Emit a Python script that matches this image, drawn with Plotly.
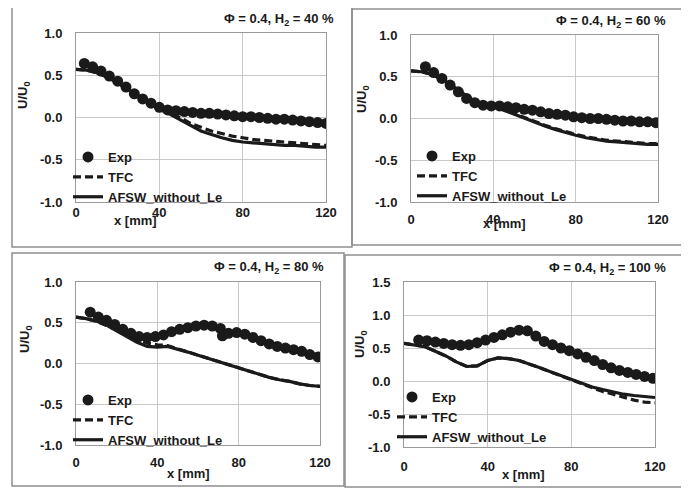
import plotly.graph_objects as go

W, H = 689, 489

# ---------------- data ----------------
sim_x = [0, 5, 10, 15, 20, 25, 30, 35, 40, 45, 50, 55, 60, 65, 70, 75, 80, 85, 90, 95, 100, 105, 110, 115, 120]

# H2 = 40 %
exp_x_40 = [4, 8, 12, 16, 20, 24, 28, 32, 36, 40, 44, 48, 52, 56, 60, 64, 68, 72, 76, 80, 84, 88, 92, 96, 100, 104, 108, 112, 116, 120]
exp_y_40 = [0.64, 0.60, 0.55, 0.49, 0.43, 0.36, 0.28, 0.22, 0.17, 0.12, 0.09, 0.08, 0.07, 0.06, 0.05, 0.05, 0.04, 0.03, 0.02, 0.01, 0.01, 0.00, -0.01, -0.02, -0.02, -0.03, -0.04, -0.05, -0.06, -0.07]
tfc_40 = [0.57, 0.56, 0.53, 0.48, 0.41, 0.33, 0.25, 0.17, 0.10, 0.05, 0.00, -0.07, -0.12, -0.16, -0.19, -0.22, -0.24, -0.26, -0.27, -0.28, -0.29, -0.30, -0.31, -0.32, -0.33]
afsw_40 = [0.57, 0.56, 0.53, 0.48, 0.41, 0.33, 0.25, 0.17, 0.10, 0.04, -0.03, -0.10, -0.16, -0.20, -0.24, -0.27, -0.29, -0.30, -0.31, -0.32, -0.33, -0.33, -0.34, -0.35, -0.35]

# H2 = 60 %
exp_x_60 = [7, 11, 15, 19, 23, 27, 31, 35, 39, 43, 47, 51, 55, 59, 63, 67, 71, 75, 79, 83, 87, 91, 95, 99, 103, 107, 111, 115, 119]
exp_y_60 = [0.62, 0.55, 0.48, 0.40, 0.32, 0.24, 0.19, 0.16, 0.15, 0.15, 0.14, 0.13, 0.11, 0.10, 0.08, 0.06, 0.05, 0.04, 0.02, 0.01, 0.00, 0.00, -0.01, -0.02, -0.03, -0.03, -0.04, -0.04, -0.05]
tfc_60 = [0.57, 0.56, 0.53, 0.47, 0.39, 0.30, 0.22, 0.17, 0.14, 0.11, 0.06, 0.01, -0.04, -0.08, -0.12, -0.16, -0.19, -0.22, -0.24, -0.26, -0.27, -0.28, -0.29, -0.30, -0.30]
afsw_60 = [0.57, 0.56, 0.53, 0.47, 0.39, 0.30, 0.22, 0.17, 0.14, 0.10, 0.05, 0.00, -0.05, -0.09, -0.13, -0.17, -0.20, -0.23, -0.25, -0.27, -0.28, -0.29, -0.30, -0.31, -0.31]

# H2 = 80 %
exp_x_80 = [7, 11, 15, 19, 23, 27, 31, 35, 39, 43, 47, 51, 55, 59, 63, 67, 71, 72, 75, 79, 83, 87, 91, 95, 99, 103, 107, 111, 115, 119]
exp_y_80 = [0.63, 0.57, 0.53, 0.48, 0.42, 0.37, 0.33, 0.32, 0.33, 0.35, 0.39, 0.42, 0.44, 0.46, 0.47, 0.46, 0.43, 0.34, 0.37, 0.38, 0.36, 0.32, 0.28, 0.24, 0.21, 0.19, 0.17, 0.15, 0.11, 0.08]
tfc_80 = [0.57, 0.55, 0.52, 0.47, 0.41, 0.35, 0.29, 0.25, 0.23, 0.22, 0.18, 0.14, 0.10, 0.06, 0.02, -0.02, -0.06, -0.10, -0.14, -0.17, -0.20, -0.22, -0.25, -0.27, -0.28]
afsw_80 = [0.57, 0.55, 0.52, 0.47, 0.40, 0.33, 0.26, 0.21, 0.20, 0.21, 0.18, 0.14, 0.10, 0.06, 0.02, -0.02, -0.06, -0.10, -0.14, -0.17, -0.20, -0.22, -0.25, -0.27, -0.28]

# H2 = 100 %
exp_x_100 = [7, 11, 15, 19, 23, 27, 31, 35, 39, 43, 47, 51, 55, 59, 63, 67, 71, 75, 79, 83, 87, 91, 95, 99, 103, 107, 111, 115, 119]
exp_y_100 = [0.62, 0.61, 0.59, 0.57, 0.55, 0.54, 0.55, 0.58, 0.62, 0.66, 0.70, 0.74, 0.77, 0.76, 0.68, 0.60, 0.55, 0.50, 0.46, 0.41, 0.36, 0.31, 0.25, 0.20, 0.16, 0.13, 0.10, 0.07, 0.04]
tfc_100 = [0.57, 0.55, 0.52, 0.45, 0.38, 0.29, 0.22, 0.23, 0.31, 0.35, 0.34, 0.31, 0.26, 0.20, 0.14, 0.08, 0.02, -0.05, -0.11, -0.16, -0.20, -0.25, -0.29, -0.32, -0.33]
afsw_100 = [0.57, 0.55, 0.52, 0.45, 0.38, 0.29, 0.22, 0.23, 0.31, 0.35, 0.34, 0.31, 0.26, 0.20, 0.14, 0.08, 0.02, -0.04, -0.09, -0.13, -0.17, -0.20, -0.22, -0.24, -0.25]

x_ticks = [0, 40, 80, 120]
x_tick_labels = ["0", "40", "80", "120"]
y_ticks_a = [-1.0, -0.5, 0.0, 0.5, 1.0]
y_tick_labels_a = ["-1.0", "-0.5", "0.0", "0.5", "1.0"]
y_ticks_b = [-1.0, -0.5, 0.0, 0.5, 1.0, 1.5]
y_tick_labels_b = ["-1.0", "-0.5", "0.0", "0.5", "1.0", "1.5"]

titles = ["Φ = 0.4, H<sub>2</sub> = 40 %", "Φ = 0.4, H<sub>2</sub> = 60 %",
          "Φ = 0.4, H<sub>2</sub> = 80 %", "Φ = 0.4, H<sub>2</sub> = 100 %"]

# ---------------- layout geometry (pixels of the page) ----------------
OFF = 8  # the page body margin shifts the figure by this much

def fx(p):
    return (p - OFF) / W

def fy(p):
    return 1 - (p - OFF) / H

panels = [
    dict(exp_x=exp_x_40, exp_y=exp_y_40, tfc=tfc_40, afsw=afsw_40, yt=y_ticks_a, ytl=y_tick_labels_a, yr=[-1, 1],
         plot=(76, 326, 33, 202), frame=(12, 352, 5, 247), title=(336, 20), ytitle=(23, 96), xtitle=(135, 221),
         leg=(68, 142), xstand=-2),
    dict(exp_x=exp_x_60, exp_y=exp_y_60, tfc=tfc_60, afsw=afsw_60, yt=y_ticks_a, ytl=y_tick_labels_a, yr=[-1, 1],
         plot=(411, 658, 35, 202), frame=(352, 685, 9, 245), title=(668, 22), ytitle=(363, 100), xtitle=(504, 223),
         leg=(412, 141), xstand=5),
    dict(exp_x=exp_x_80, exp_y=exp_y_80, tfc=tfc_80, afsw=afsw_80, yt=y_ticks_a, ytl=y_tick_labels_a, yr=[-1, 1],
         plot=(76, 320, 282, 445), frame=(12, 344, 253, 486), title=(326, 267), ytitle=(25, 340), xtitle=(188, 473),
         leg=(68, 385), xstand=5),
    dict(exp_x=exp_x_100, exp_y=exp_y_100, tfc=tfc_100, afsw=afsw_100, yt=y_ticks_b, ytl=y_tick_labels_b, yr=[-1, 1.5],
         plot=(404, 655, 282, 447), frame=(345, 685, 255, 487), title=(668, 268), ytitle=(360, 345), xtitle=(523, 474),
         leg=(392, 382), xstand=7),
]

FONT = "Liberation Sans, Arial, sans-serif"
INK = "#1a1a1a"
FS = 13

fig = go.Figure()
layout = dict(
    width=W, height=H, margin=dict(l=0, r=0, t=0, b=0, autoexpand=False),
    paper_bgcolor="white", plot_bgcolor="white",
    font=dict(family=FONT, size=FS, color=INK, weight="bold"),
    showlegend=True,
)
annotations = []
shapes = []

for i, p in enumerate(panels):
    n = "" if i == 0 else str(i + 1)
    xa, ya = "x" + n, "y" + n
    leg = "legend" + n
    fig.add_trace(go.Scatter(x=p["exp_x"], y=p["exp_y"], mode="markers", name="Exp",
                             marker=dict(size=11, color=INK, line=dict(width=0)),
                             xaxis=xa, yaxis=ya, legend=leg))
    fig.add_trace(go.Scatter(x=sim_x, y=p["tfc"], mode="lines", name="TFC",
                             line=dict(color=INK, width=3.2, dash="8px,4px"),
                             xaxis=xa, yaxis=ya, legend=leg))
    fig.add_trace(go.Scatter(x=sim_x, y=p["afsw"], mode="lines", name="AFSW_without_Le",
                             line=dict(color=INK, width=3.2),
                             xaxis=xa, yaxis=ya, legend=leg))
    l, r, t, b = p["plot"]
    layout["xaxis" + n] = dict(domain=[fx(l), fx(r)], anchor=ya, range=[0, 120],
                               tickvals=x_ticks, ticktext=x_tick_labels, automargin=False,
                               showgrid=True, gridcolor="#c9c9c9", gridwidth=1,
                               showline=True, mirror=True, linecolor="#9a9a9a", linewidth=1,
                               zeroline=False, ticks="", ticklabelstandoff=p["xstand"],
                               tickfont=dict(size=FS, family=FONT, color=INK, weight="bold"))
    layout["yaxis" + n] = dict(domain=[fy(b), fy(t)], anchor=xa, range=p["yr"],
                               tickvals=p["yt"], ticktext=p["ytl"], automargin=False,
                               showgrid=True, gridcolor="#c9c9c9", gridwidth=1,
                               showline=True, mirror=True, linecolor="#9a9a9a", linewidth=1,
                               zeroline=False, ticks="", ticklabelstandoff=10,
                               tickfont=dict(size=FS, family=FONT, color=INK, weight="bold"))
    lx, ly = p["leg"]
    layout[leg] = dict(x=fx(lx), y=fy(ly), xanchor="left", yanchor="top",
                       bgcolor="rgba(0,0,0,0)", borderwidth=0, itemwidth=30,
                       tracegroupgap=0,
                       font=dict(size=FS, family=FONT, color=INK, weight="bold"))
    fl, fr, ft, fb = p["frame"]
    shapes.append(dict(type="rect", xref="paper", yref="paper",
                       x0=fx(fl), x1=fx(fr), y0=fy(fb), y1=fy(ft),
                       line=dict(color="#8e8e8e", width=1.5), layer="below"))
    tx, ty = p["title"]
    annotations.append(dict(text=titles[i], xref="paper", yref="paper", x=fx(tx), y=fy(ty),
                            xanchor="right", yanchor="middle", showarrow=False,
                            font=dict(size=FS, family=FONT, color=INK, weight="bold")))
    yx, yy = p["ytitle"]
    annotations.append(dict(text="U/U<sub>0</sub>", xref="paper", yref="paper", x=fx(yx), y=fy(yy),
                            xanchor="center", yanchor="middle", showarrow=False, textangle=-90,
                            font=dict(size=FS, family=FONT, color=INK, weight="bold")))
    xx, xy = p["xtitle"]
    annotations.append(dict(text="x [mm]", xref="paper", yref="paper", x=fx(xx), y=fy(xy),
                            xanchor="center", yanchor="middle", showarrow=False,
                            font=dict(size=FS, family=FONT, color=INK, weight="bold")))

layout["annotations"] = annotations
layout["shapes"] = shapes
fig.update_layout(**layout)
fig.write_html("out.html")
